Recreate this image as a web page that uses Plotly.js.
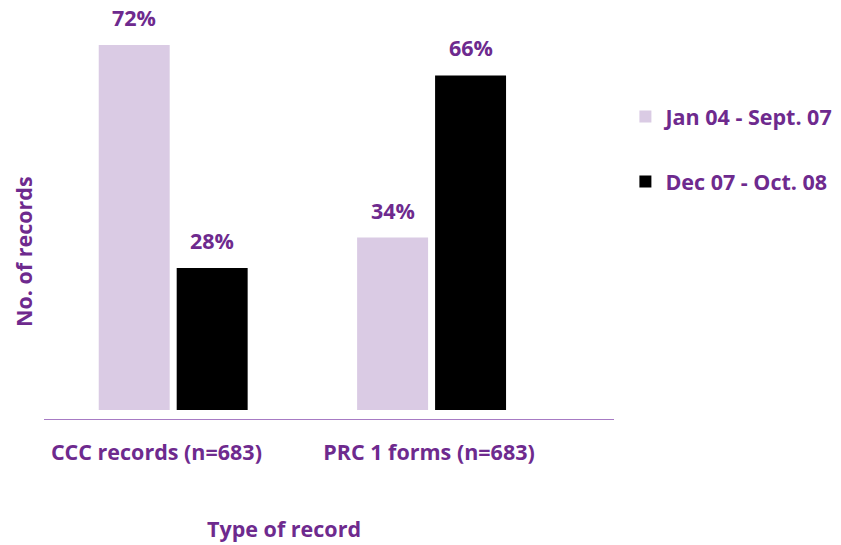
<!DOCTYPE html>
<html><head><meta charset="utf-8">
<script src="https://cdn.plot.ly/plotly-3.0.1.min.js"></script>
<style>body{margin:0;padding:0;background:#fff}#chart{width:841px;height:545px}</style>
</head><body><div id="chart"></div>
<script>
const categories = ["CCC records (n=683)", "PRC 1 forms (n=683)"];
const seriesNames = ["Jan 04 - Sept. 07", "Dec 07 - Oct. 08"];
const period1 = [72, 34];
const period2 = [28, 66];
const xTitle = "Type of record";
const yTitle = "No. of records";

const purple = "#6e2a8e";
const lilac = "#dacbe4";
const FONT = "Open Sans";
const FS = 21.5;
const catPos = categories.map((c, i) => i);

const bargap = 0.3965, bargroupgap = 0.0898;
const slot = (1 - bargap) / 2;

const traces = [
  {type: "bar", name: seriesNames[0], x: catPos, y: period1, marker: {color: lilac}, legendgroup: "a", hoverinfo: "none"},
  {type: "bar", name: seriesNames[1], x: catPos, y: period2, marker: {color: "#000000"}, legendgroup: "b", hoverinfo: "none"}
];

const bold = {family: FONT, size: FS, color: purple, weight: 700};
const annotations = [];
[period1, period2].forEach((vals, s) => {
  vals.forEach((v, i) => {
    annotations.push({x: catPos[i] + (s === 0 ? -slot / 2 : slot / 2), y: v, xref: "x", yref: "y",
      text: v + "%", showarrow: false, yanchor: "bottom", yshift: 11, font: bold});
  });
});
annotations.push({xref: "paper", yref: "paper", x: (284 - 44) / 570, y: -(528 - 419) / 409, text: xTitle, showarrow: false,
  yanchor: "middle", font: bold});
annotations.push({xref: "paper", yref: "paper", x: -(44 - 24) / 570, y: (419 - 252) / 409, text: yTitle, showarrow: false,
  textangle: -90, xanchor: "center", yanchor: "middle", font: bold});

const layout = {
  width: 841, height: 545,
  margin: {l: 44, r: 227, t: 10, b: 126, autoexpand: false},
  paper_bgcolor: "#fff", plot_bgcolor: "#fff",
  barmode: "group", bargap: bargap, bargroupgap: bargroupgap,
  font: {family: FONT, color: purple, size: FS},
  xaxis: {range: [-0.5, 1.706], showgrid: false, zeroline: false, showline: true, linecolor: "#a77bc4", linewidth: 1.2,
    tickvals: [-0.065, 0.99], ticktext: categories, ticks: "", ticklen: 0, ticklabelstandoff: 14,
    tickfont: bold},
  yaxis: {range: [-1.78, 78.9], showgrid: false, zeroline: false, showline: false, showticklabels: false, ticks: ""},
  showlegend: true,
  legend: {x: 1.02, xanchor: "left", y: (419 - 96) / 409, yanchor: "top", tracegroupgap: 34,
    font: bold, bgcolor: "rgba(0,0,0,0)"},
  annotations: annotations
};

Plotly.newPlot("chart", traces, layout, {displayModeBar: false, staticPlot: true});
</script></body></html>
